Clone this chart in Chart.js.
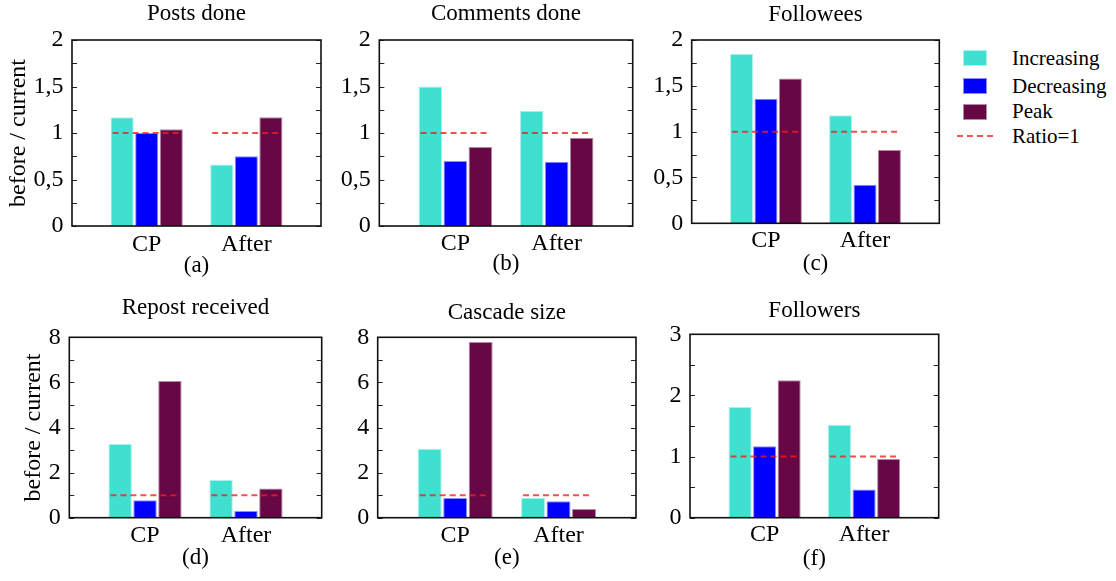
<!DOCTYPE html>
<html>
<head>
<meta charset="utf-8">
<script src="https://cdn.jsdelivr.net/npm/chart.js@4.4.1/dist/chart.umd.min.js"></script>
<style>
  body { margin: 0; background: #fff; font-family: 'Liberation Serif', Times, serif; }
  #page { position: relative; width: 1116px; height: 581px; overflow: hidden; }
  #page canvas { position: absolute; }
  .leg-row { position: absolute; left: 957px; height: 26px; display: flex; align-items: center; font-size: 21px; color: #000; font-family: 'Liberation Serif', Times, serif; }
  .leg-mark { width: 36px; display: flex; justify-content: center; }
  .leg-box { width: 24px; height: 16px; box-sizing: border-box; border: 1px solid; }
  .leg-dash { width: 36px; height: 2px; background: repeating-linear-gradient(to right, rgba(240,40,40,0.8) 0 6px, transparent 6px 10px); }
  .leg-text { margin-left: 19px; }
</style>
</head>
<body>
<div id="page"></div>
<script>
// categories and series
const categories = ['CP', 'After'];
const seriesNames = ['Increasing', 'Decreasing', 'Peak'];
const ratioLabel = 'Ratio=1';
const ratioValue = 1;
const yAxisTitle = 'before / current';

const panelTitles = ['Posts done', 'Comments done', 'Followees', 'Repost received', 'Cascade size', 'Followers'];
const panelTags = ['(a)', '(b)', '(c)', '(d)', '(e)', '(f)'];

// values per panel: [Increasing, Decreasing, Peak], each [CP, After]
const postsDone      = [[1.17, 0.66], [1.00, 0.75], [1.04, 1.17]];
const commentsDone   = [[1.50, 1.24], [0.70, 0.69], [0.85, 0.95]];
const followees      = [[1.85, 1.18], [1.36, 0.42], [1.58, 0.80]];
const repostReceived = [[3.27, 1.67], [0.77, 0.30], [6.06, 1.29]];
const cascadeSize    = [[3.06, 0.89], [0.87, 0.73], [7.79, 0.39]];
const followers      = [[1.81, 1.52], [1.17, 0.46], [2.25, 0.96]];

// y axis: max, labelled step, minor tick step
const yMaxes      = [2, 2, 2, 8, 8, 3];
const labelSteps  = [0.5, 0.5, 0.5, 2, 2, 1];
const minorSteps  = [0.25, 0.25, 0.25, 1, 1, 0.5];

const panelData = [postsDone, commentsDone, followees, repostReceived, cascadeSize, followers];

// look
const fillColors   = ['#40E0D0', '#0000FF', '#680745'];
const borderColors = ['#a8f2ea', '#8c8cff', '#b58aa6'];
const serif = "'Liberation Serif', Times, serif";

// panel placement: canvas box + wanted plot area + text centres
const boxes = [
  { x: 0,   y: 0,   w: 330, h: 290, l: 72,    r: 321,   t: 40,    b: 226,   titleY: 14.3, labelY: 244.5, tagY: 266,   yTitleX: 18.3 },
  { x: 330, y: 0,   w: 320, h: 290, l: 379.3, r: 632.7, t: 40,    b: 226,   titleY: 14.3, labelY: 243.5, tagY: 263.5 },
  { x: 645, y: 0,   w: 310, h: 290, l: 691.7, r: 939.3, t: 40,    b: 223.3, titleY: 14.7, labelY: 241,   tagY: 263.5 },
  { x: 0,   y: 290, w: 330, h: 291, l: 69.3,  r: 321.7, t: 337.3, b: 517.7, titleY: 307.8, labelY: 535.3, tagY: 558, yTitleX: 33.7 },
  { x: 330, y: 290, w: 320, h: 291, l: 377.7, r: 636,   t: 337.3, b: 517.7, titleY: 313.3, labelY: 535.3, tagY: 558 },
  { x: 645, y: 290, w: 310, h: 291, l: 690,   r: 938.7, t: 334.3, b: 517.7, titleY: 311,  labelY: 535,   tagY: 558.5 }
];

Chart.defaults.font.family = serif;
Chart.defaults.color = '#000';

// frame, inward tick marks and the dashed ratio line
const framePlugin = {
  id: 'frame',
  afterDatasetsDraw(chart) {
    const ctx = chart.ctx;
    const y = chart.scales.y;
    const first = chart.getDatasetMeta(0).data;
    const last = chart.getDatasetMeta(seriesNames.length - 1).data;
    const yy = y.getPixelForValue(ratioValue);
    ctx.save();
    ctx.strokeStyle = 'rgba(240,30,30,0.78)';
    ctx.lineWidth = 2;
    ctx.setLineDash([6, 4]);
    for (let i = 0; i < first.length; i++) {
      const a = first[i], c = last[i];
      ctx.beginPath();
      ctx.moveTo(a.x - a.width / 2 + 2, yy);
      ctx.lineTo(c.x + c.width / 2 - 3, yy);
      ctx.stroke();
    }
    ctx.restore();
  },
  afterDraw(chart) {
    const ctx = chart.ctx;
    const a = chart.chartArea;
    const y = chart.scales.y;
    ctx.save();
    ctx.strokeStyle = '#222';
    ctx.lineWidth = 1;
    y.ticks.forEach(t => {
      const py = Math.round(y.getPixelForValue(t.value)) + 0.5;
      ctx.beginPath();
      ctx.moveTo(a.left, py); ctx.lineTo(a.left + 5, py);
      ctx.moveTo(a.right, py); ctx.lineTo(a.right - 5, py);
      ctx.stroke();
    });
    ctx.lineWidth = 1.6;
    ctx.strokeStyle = '#111';
    ctx.strokeRect(a.left, a.top, a.right - a.left, a.bottom - a.top);
    ctx.restore();
  }
};

const page = document.getElementById('page');

panelData.forEach((vals, p) => {
  const bx = boxes[p];
  const cv = document.createElement('canvas');
  cv.width = bx.w;
  cv.height = bx.h;
  cv.style.left = bx.x + 'px';
  cv.style.top = bx.y + 'px';
  page.appendChild(cv);

  const titleTop = bx.titleY - bx.y - 11.5;
  const titleBottom = bx.t - bx.y - 23 - titleTop;
  const labelPad = bx.labelY - bx.b - 12;
  const tagPad = bx.y + bx.h - bx.tagY - 11.5;
  const hasYTitle = bx.yTitleX !== undefined;

  new Chart(cv, {
    type: 'bar',
    data: {
      datasets: seriesNames.map((name, s) => ({
        label: name,
        data: vals[s].map((v, i) => ({ x: i, y: v })),
        backgroundColor: fillColors[s],
        borderColor: borderColors[s],
        borderWidth: 1,
        categoryPercentage: 0.74,
        barPercentage: 0.94
      }))
    },
    options: {
      responsive: false,
      animation: false,
      events: [],
      layout: { padding: { left: 0, right: bx.x + bx.w - bx.r, top: 0, bottom: 0 } },
      plugins: {
        legend: { display: false },
        tooltip: { enabled: false },
        title: {
          display: true,
          text: panelTitles[p],
          fullSize: false,
          font: { family: serif, size: 23, weight: 'normal', lineHeight: 1 },
          padding: { top: titleTop, bottom: titleBottom }
        }
      },
      scales: {
        x: {
          type: 'linear',
          offset: false,
          min: -0.75,
          max: 1.75,
          afterBuildTicks: axis => { axis.ticks = categories.map((c, i) => ({ value: i })); },
          afterFit: axis => { axis.height = bx.y + bx.h - bx.b; },
          grid: { display: false, drawTicks: false },
          border: { display: false },
          ticks: {
            font: { family: serif, size: 24, lineHeight: 1 },
            padding: labelPad,
            maxRotation: 0,
            callback: (v, i) => categories[i]
          },
          title: {
            display: true,
            text: panelTags[p],
            font: { family: serif, size: 23, lineHeight: 1 },
            padding: { top: 0, bottom: tagPad }
          }
        },
        y: {
          min: 0,
          max: yMaxes[p],
          afterFit: axis => { axis.width = bx.l - bx.x; },
          grid: { display: false, drawTicks: false },
          border: { display: false },
          ticks: {
            stepSize: minorSteps[p],
            font: { family: serif, size: 24, lineHeight: 1 },
            padding: 8.5,
            autoSkip: false,
            callback: v => (Math.abs(v / labelSteps[p] - Math.round(v / labelSteps[p])) < 1e-9) ? String(v).replace('.', ',') : ''
          },
          title: {
            display: hasYTitle,
            text: yAxisTitle,
            font: { family: serif, size: 24, lineHeight: 1 },
            padding: { top: hasYTitle ? bx.yTitleX - 12 : 0, bottom: 0 }
          }
        }
      }
    },
    plugins: [framePlugin]
  });
});

// legend
const legendTops = [45, 73, 98.5, 123];
seriesNames.concat([ratioLabel]).forEach((name, i) => {
  const row = document.createElement('div');
  row.className = 'leg-row';
  row.style.top = legendTops[i] + 'px';
  const mark = document.createElement('div');
  mark.className = 'leg-mark';
  const sw = document.createElement('div');
  if (i < seriesNames.length) {
    sw.className = 'leg-box';
    sw.style.background = fillColors[i];
    sw.style.borderColor = borderColors[i];
  } else {
    sw.className = 'leg-dash';
  }
  mark.appendChild(sw);
  const txt = document.createElement('span');
  txt.className = 'leg-text';
  txt.textContent = name;
  row.appendChild(mark);
  row.appendChild(txt);
  page.appendChild(row);
});
</script>
</body>
</html>
